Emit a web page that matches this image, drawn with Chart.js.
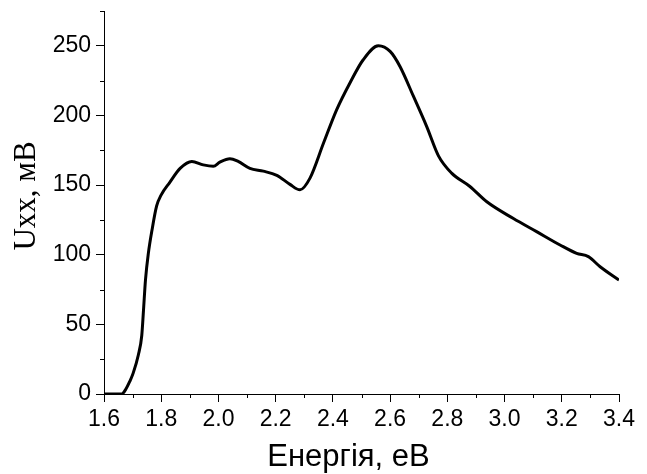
<!DOCTYPE html>
<html>
<head>
<meta charset="utf-8">
<script src="https://cdn.jsdelivr.net/npm/chart.js@4"></script>
<style>
  html, body { margin: 0; padding: 0; background: #fff; }
  #wrap { width: 647px; height: 474px; }
</style>
</head>
<body>
<div id="wrap"><canvas id="c" width="647" height="474"></canvas></div>
<script>
const energy = [1.60, 1.662, 1.675, 1.69, 1.702, 1.72, 1.732, 1.738, 1.745, 1.755, 1.768, 1.784, 1.80, 1.83, 1.866, 1.907, 1.947, 1.982, 2.005, 2.04, 2.069, 2.11, 2.157, 2.204, 2.25, 2.285, 2.32, 2.367, 2.413, 2.46, 2.506, 2.559, 2.60, 2.635, 2.681, 2.728, 2.769, 2.815, 2.879, 2.938, 3.031, 3.112, 3.194, 3.252, 3.293, 3.334, 3.40];
const voltage = [0, 0, 3, 9, 15, 28, 42, 60, 82, 101, 118, 135, 143, 152, 162, 167, 164.5, 163.5, 166.5, 169, 167, 162, 160, 157, 150.5, 146.6, 155, 180, 204, 223.5, 240, 250, 246, 235, 214, 192, 171, 158.6, 149, 138, 126, 116.6, 107, 101, 98.6, 91.4, 81.8];
const xMinorTicks = [1.7, 1.9, 2.1, 2.3, 2.5, 2.7, 2.9, 3.1, 3.3];
const yMinorTicks = [25, 75, 125, 175, 225, 275];
const xTitle = 'Енергія, еВ';
const yTitle = 'Uxx, мВ';

const points = energy.map((e, i) => ({ x: e, y: voltage[i] }));

const minorTicks = {
  id: 'minorTicks',
  afterDraw(chart) {
    const ctx = chart.ctx;
    const xs = chart.scales.x, ys = chart.scales.y;
    ctx.save();
    ctx.strokeStyle = '#000';
    ctx.lineWidth = 1;
    ctx.beginPath();
    xMinorTicks.forEach(v => {
      const px = Math.round(xs.getPixelForValue(v)) + 0.5;
      ctx.moveTo(px, xs.top);
      ctx.lineTo(px, xs.top + 4);
    });
    yMinorTicks.forEach(v => {
      const py = Math.round(ys.getPixelForValue(v)) + 0.5;
      ctx.moveTo(ys.right - 4, py);
      ctx.lineTo(ys.right, py);
    });
    ctx.stroke();
    ctx.restore();
  }
};

const axisTitles = {
  id: 'axisTitles',
  afterDraw(chart) {
    const ctx = chart.ctx;
    const area = chart.chartArea;
    ctx.save();
    ctx.fillStyle = '#000';
    ctx.textAlign = 'center';
    ctx.textBaseline = 'middle';
    ctx.font = '31px "Liberation Sans", Arial, sans-serif';
    ctx.fillText(xTitle, (area.left + area.right) / 2 - 13, 457);
    ctx.translate(27, 196);
    ctx.rotate(-Math.PI / 2);
    ctx.font = '31px "Liberation Serif", "Times New Roman", serif';
    ctx.fillText(yTitle, 0, 0);
    ctx.restore();
  }
};

new Chart(document.getElementById('c'), {
  type: 'scatter',
  data: {
    datasets: [{
      data: points,
      showLine: true,
      borderColor: '#000',
      borderWidth: 3,
      pointRadius: 0,
      cubicInterpolationMode: 'monotone',
      fill: false
    }]
  },
  options: {
    responsive: false,
    animation: false,
    devicePixelRatio: 1,
    layout: { padding: { left: 0, right: 28, top: 11, bottom: 0 } },
    plugins: { legend: { display: false }, tooltip: { enabled: false } },
    scales: {
      x: {
        type: 'linear',
        min: 1.6, max: 3.4,
        afterFit(s) { s.height = 80; s.paddingLeft = 0; s.paddingRight = 0; },
        border: { display: true, color: '#000', width: 1 },
        grid: { drawOnChartArea: false, drawTicks: true, tickLength: 8, color: '#000', tickColor: '#000' },
        ticks: {
          stepSize: 0.2,
          padding: 4,
          color: '#000',
          font: { family: 'Liberation Sans, Arial', size: 23 },
          callback: v => Number(v).toFixed(1)
        },
        title: { display: false }
      },
      y: {
        type: 'linear',
        min: 0, max: 275,
        afterFit(s) { s.width = 104; s.paddingTop = 0; s.paddingBottom = 0; },
        border: { display: true, color: '#000', width: 1 },
        grid: { drawOnChartArea: false, drawTicks: true, tickLength: 8, color: '#000', tickColor: '#000' },
        ticks: {
          stepSize: 50,
          includeBounds: false,
          padding: 5,
          color: '#000',
          font: { family: 'Liberation Sans, Arial', size: 23 }
        },
        title: { display: false }
      }
    }
  },
  plugins: [minorTicks, axisTitles]
});
</script>
</body>
</html>
